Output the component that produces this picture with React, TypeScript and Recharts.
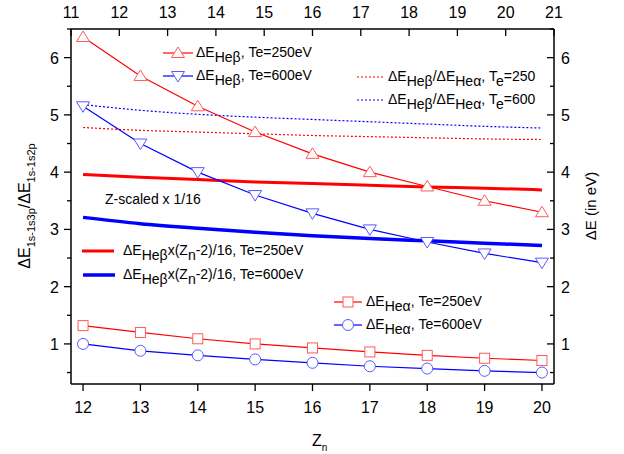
import { LineChart, Line, XAxis, YAxis } from 'recharts'

// ── data ──────────────────────────────────────────────────
const Z = [12, 13, 14, 15, 16, 17, 18, 19, 20]
const HEB_250 = [6.36, 5.68, 5.15, 4.7, 4.32, 4.0, 3.75, 3.5, 3.3]
const HEB_600 = [5.15, 4.5, 4.0, 3.6, 3.28, 3.0, 2.78, 2.58, 2.42]
const RATIO_250 = [4.78, 4.73, 4.7, 4.67, 4.64, 4.62, 4.6, 4.58, 4.57]
const RATIO_600 = [5.18, 5.08, 5.01, 4.96, 4.92, 4.88, 4.84, 4.8, 4.77]
const SCALED_250 = [3.96, 3.91, 3.87, 3.83, 3.8, 3.77, 3.74, 3.72, 3.69]
const SCALED_600 = [3.21, 3.1, 3.02, 2.95, 2.89, 2.84, 2.8, 2.76, 2.72]
const HEA_250 = [1.32, 1.2, 1.09, 1.0, 0.93, 0.86, 0.8, 0.75, 0.71]
const HEA_600 = [1.0, 0.88, 0.8, 0.73, 0.67, 0.61, 0.57, 0.53, 0.5]

const X_DOMAIN: [number, number] = [11.79, 20.21]
const X_TICKS = [12, 13, 14, 15, 16, 17, 18, 19, 20]
// top axis runs 11 → 21 across the same frame
const TOP_LABELS = [11, 12, 13, 14, 15, 16, 17, 18, 19, 20, 21]
const Y_TICKS = [0.5, 1, 1.5, 2, 2.5, 3, 3.5, 4, 4.5, 5, 5.5, 6, 6.5]

const topToBottom = (v: number) => X_DOMAIN[0] + (v - 11) / 10 * (X_DOMAIN[1] - X_DOMAIN[0])
const bottomToTop = (b: number) => Math.round(11 + (b - X_DOMAIN[0]) / (X_DOMAIN[1] - X_DOMAIN[0]) * 10)
const TOP_TICKS = TOP_LABELS.map(topToBottom)

const data = Z.map((z, i) => ({
  z,
  hb250: HEB_250[i], hb600: HEB_600[i],
  r250: RATIO_250[i], r600: RATIO_600[i],
  s250: SCALED_250[i], s600: SCALED_600[i],
  ha250: HEA_250[i], ha600: HEA_600[i],
}))

const RED = '#ff0000'
const BLUE = '#0000ff'
const RED_M = '#ff5a5a'
const BLUE_M = '#5a5aff'
const FONT = '"Liberation Sans", Arial, sans-serif'

// ── markers ───────────────────────────────────────────────
const triUp = (cx: number, cy: number, c: string, k?: any) =>
  <polygon key={k} points={`${cx},${cy - 6} ${cx - 6.5},${cy + 4.5} ${cx + 6.5},${cy + 4.5}`} fill="#fff" stroke={c} strokeWidth={1} />
const triDown = (cx: number, cy: number, c: string, k?: any) =>
  <polygon key={k} points={`${cx},${cy + 6} ${cx - 6.5},${cy - 4.5} ${cx + 6.5},${cy - 4.5}`} fill="#fff" stroke={c} strokeWidth={1} />
const square = (cx: number, cy: number, c: string, k?: any) =>
  <rect key={k} x={cx - 5} y={cy - 5} width={10} height={10} fill="#fff" stroke={c} strokeWidth={1} />
const circle = (cx: number, cy: number, c: string, k?: any) =>
  <circle key={k} cx={cx} cy={cy} r={5.5} fill="#fff" stroke={c} strokeWidth={1} />

const dotOf = (fn: typeof circle, c: string) => (p: any) => fn(p.cx, p.cy, c, p.index)

// ── ticks ─────────────────────────────────────────────────
const isMajor = (v: number) => Number.isInteger(v)

const BottomTick = ({ x, y, payload }: any) => (
  <g>
    <line x1={x} x2={x} y1={y} y2={y + 7} stroke="#000" strokeWidth={1.3} />
    <text x={x} y={y + 29} textAnchor="middle" fontSize={16} fontFamily={FONT} fill="#000">{payload.value}</text>
  </g>
)
const TopTick = ({ x, y, payload }: any) => (
  <g>
    <line x1={x} x2={x} y1={y} y2={y + 7} stroke="#000" strokeWidth={1.3} />
    <text x={x} y={y - 11} textAnchor="middle" fontSize={16} fontFamily={FONT} fill="#000">{bottomToTop(payload.value)}</text>
  </g>
)
const LeftTick = ({ x, y, payload }: any) => {
  const major = isMajor(payload.value)
  return (
    <g>
      <line x1={x - (major ? 7 : 4)} x2={x} y1={y} y2={y} stroke="#000" strokeWidth={1.3} />
      {major && <text x={x - 12} y={y + 6} textAnchor="end" fontSize={16} fontFamily={FONT} fill="#000">{payload.value}</text>}
    </g>
  )
}
const RightTick = ({ x, y, payload }: any) => {
  const major = isMajor(payload.value)
  return (
    <g>
      <line x1={x - (major ? 7 : 4)} x2={x} y1={y} y2={y} stroke="#000" strokeWidth={1.3} />
      {major && <text x={x + 7} y={y + 6} textAnchor="start" fontSize={16} fontFamily={FONT} fill="#000">{payload.value}</text>}
    </g>
  )
}

// ── legend text helper: ΔE with subscript ─────────────────
const Sub = ({ children }: any) => <tspan fontSize={14} dy={5}>{children}</tspan>
const Up = ({ children }: any) => <tspan dy={-5}>{children}</tspan>

function Overlay() {
  const t = { fontSize: 14, fontFamily: FONT, fill: '#000' }
  return (
    <svg width={624} height={454} style={{ position: 'absolute', left: 0, top: 0, pointerEvents: 'none' }}>
      {/* marker legends, top left */}
      <line x1={163} x2={193} y1={53} y2={53} stroke={RED} strokeWidth={1.2} />
      {triUp(178, 53, RED_M)}
      <text x={196} y={57} {...t}>ΔE<Sub>Heβ</Sub><Up>, Te=250eV</Up></text>
      <line x1={163} x2={193} y1={76} y2={76} stroke={BLUE} strokeWidth={1.2} />
      {triDown(178, 76, BLUE_M)}
      <text x={196} y={80} {...t}>ΔE<Sub>Heβ</Sub><Up>, Te=600eV</Up></text>

      {/* ratio legends, top right */}
      <line x1={357} x2={383} y1={77} y2={77} stroke={RED} strokeWidth={1.2} strokeDasharray="2 2" />
      <text x={388} y={81} {...t}>ΔE<Sub>Heβ</Sub><Up>/ΔE</Up><Sub>Heα</Sub><Up>, T</Up><Sub>e</Sub><Up>=250</Up></text>
      <line x1={357} x2={383} y1={100} y2={100} stroke={BLUE} strokeWidth={1.2} strokeDasharray="2 2" />
      <text x={388} y={104} {...t}>ΔE<Sub>Heβ</Sub><Up>/ΔE</Up><Sub>Heα</Sub><Up>, T</Up><Sub>e</Sub><Up>=600</Up></text>

      {/* scaled legends */}
      <text x={105} y={204} {...t}>Z-scaled x 1/16</text>
      <line x1={82} x2={114} y1={251} y2={251} stroke={RED} strokeWidth={3} />
      <text x={123} y={255} {...t}>ΔE<Sub>Heβ</Sub><Up>x(Z</Up><Sub>n</Sub><Up>-2)/16, Te=250eV</Up></text>
      <line x1={83} x2={115} y1={275} y2={275} stroke={BLUE} strokeWidth={3.5} />
      <text x={123} y={279} {...t}>ΔE<Sub>Heβ</Sub><Up>x(Z</Up><Sub>n</Sub><Up>-2)/16, Te=600eV</Up></text>

      {/* He-alpha legends */}
      <line x1={334} x2={362} y1={302} y2={302} stroke={RED} strokeWidth={1.2} />
      {square(348, 302, RED_M)}
      <text x={366} y={306} {...t}>ΔE<Sub>Heα</Sub><Up>, Te=250eV</Up></text>
      <line x1={334} x2={362} y1={325} y2={325} stroke={BLUE} strokeWidth={1.2} />
      {circle(348, 325, BLUE_M)}
      <text x={366} y={329} {...t}>ΔE<Sub>Heα</Sub><Up>, Te=600eV</Up></text>

      {/* axis titles */}
      <text transform="translate(30,206) rotate(-90)" textAnchor="middle" fontSize={16} fontFamily={FONT} fill="#000">
        ΔE<tspan fontSize={11} dy={5}>1s-1s3p</tspan><tspan dy={-5}>/ΔE</tspan><tspan fontSize={11} dy={5}>1s-1s2p</tspan>
      </text>
      <text transform="translate(596,206) rotate(-90)" textAnchor="middle" fontSize={15} fontFamily={FONT} fill="#000">ΔE (in eV)</text>
      <text x={312} y={446} fontSize={16} fontFamily={FONT} fill="#000">Z<tspan fontSize={10} dy={5}>n</tspan></text>
    </svg>
  )
}

export default function App() {
  return (
    <div style={{ position: 'absolute', left: 0, top: 0, width: 624, height: 454, background: '#fff', fontFamily: FONT }}>
      <LineChart width={624} height={454} data={data} margin={{ top: 0, right: 0, bottom: 0, left: 0 }}>
        <XAxis xAxisId="b" dataKey="z" type="number" domain={X_DOMAIN} ticks={X_TICKS}
          allowDataOverflow height={70} tickSize={0} tickMargin={0} tick={BottomTick} interval={0}
          axisLine={{ stroke: '#000', strokeWidth: 1.5 }} tickLine={false} />
        <XAxis xAxisId="t" dataKey="z" orientation="top" type="number" domain={X_DOMAIN} ticks={TOP_TICKS}
          allowDataOverflow height={29} tickSize={0} tickMargin={0} tick={TopTick} interval={0}
          axisLine={{ stroke: '#000', strokeWidth: 1.5 }} tickLine={false} />
        <YAxis yAxisId="l" type="number" domain={[0.3, 6.5]} ticks={Y_TICKS} allowDataOverflow
          width={71} tickSize={0} tickMargin={0} tick={LeftTick} interval={0}
          axisLine={{ stroke: '#000', strokeWidth: 1.5 }} tickLine={false} />
        <YAxis yAxisId="r" orientation="right" type="number" domain={[0.3, 6.5]} ticks={Y_TICKS} allowDataOverflow
          width={70} tickSize={0} tickMargin={0} tick={RightTick} interval={0}
          axisLine={{ stroke: '#000', strokeWidth: 1.5 }} tickLine={false} />

        <Line xAxisId="t" yAxisId="r" dataKey="r250" type="monotone" stroke={RED} strokeWidth={1.2} strokeDasharray="2 2" dot={false} isAnimationActive={false} />
        <Line xAxisId="b" yAxisId="l" dataKey="r600" type="monotone" stroke={BLUE} strokeWidth={1.2} strokeDasharray="2 2" dot={false} isAnimationActive={false} />
        <Line xAxisId="b" yAxisId="l" dataKey="s250" type="monotone" stroke={RED} strokeWidth={3} dot={false} isAnimationActive={false} />
        <Line xAxisId="b" yAxisId="l" dataKey="s600" type="monotone" stroke={BLUE} strokeWidth={3.5} dot={false} isAnimationActive={false} />
        <Line xAxisId="b" yAxisId="l" dataKey="hb250" stroke={RED} strokeWidth={1.2} dot={dotOf(triUp, RED_M)} isAnimationActive={false} />
        <Line xAxisId="b" yAxisId="l" dataKey="hb600" stroke={BLUE} strokeWidth={1.2} dot={dotOf(triDown, BLUE_M)} isAnimationActive={false} />
        <Line xAxisId="b" yAxisId="l" dataKey="ha250" stroke={RED} strokeWidth={1.2} dot={dotOf(square, RED_M)} isAnimationActive={false} />
        <Line xAxisId="b" yAxisId="l" dataKey="ha600" stroke={BLUE} strokeWidth={1.2} dot={dotOf(circle, BLUE_M)} isAnimationActive={false} />
      </LineChart>
      <Overlay />
    </div>
  )
}
